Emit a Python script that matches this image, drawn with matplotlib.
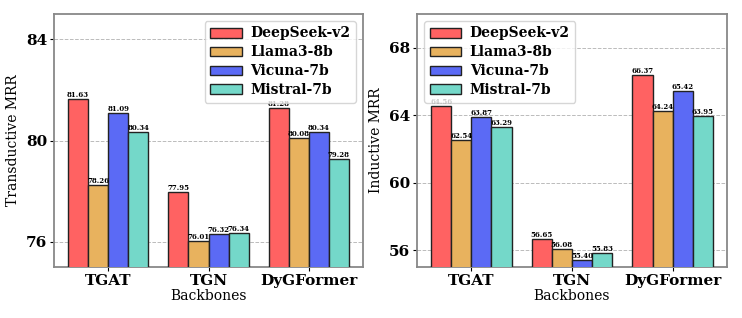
import numpy as np
import matplotlib
matplotlib.use("Agg")
import matplotlib.pyplot as plt

plt.rcParams['font.family'] = ['DejaVu Serif']

backbones = ['TGAT', 'TGN', 'DyGFormer']
models = ['DeepSeek-v2', 'Llama3-8b', 'Vicuna-7b', 'Mistral-7b']
colors = ['#ff6262', '#e8b25e', '#5b6af5', '#74d8c9']

# transductive MRR, one list per model (TGAT, TGN, DyGFormer)
trans_deepseek = [81.63, 77.95, 81.28]
trans_llama = [78.26, 76.01, 80.08]
trans_vicuna = [81.09, 76.32, 80.34]
trans_mistral = [80.34, 76.34, 79.28]

# inductive MRR
ind_deepseek = [64.56, 56.65, 66.37]
ind_llama = [62.54, 56.08, 64.24]
ind_vicuna = [63.87, 55.40, 65.42]
ind_mistral = [63.29, 55.83, 63.95]

trans = [trans_deepseek, trans_llama, trans_vicuna, trans_mistral]
ind = [ind_deepseek, ind_llama, ind_vicuna, ind_mistral]


def draw(ax, data, ylabel, ylim, yticks, legend_loc):
    x = np.arange(len(backbones))
    w = 0.2
    for i, vals in enumerate(data):
        pos = x + (i - 1.5) * w
        bars = ax.bar(pos, vals, w, color=colors[i], edgecolor='#222222',
                      linewidth=1.0, label=models[i], zorder=3)
        for b, v in zip(bars, vals):
            ax.text(b.get_x() + b.get_width() / 2, v, '%.2f' % v,
                    ha='center', va='bottom', fontsize=5.0,
                    fontweight='bold', zorder=4)
    ax.set_ylim(ylim)
    ax.set_yticks(yticks)
    ax.set_xticks(x)
    ax.set_xticklabels(backbones, fontweight='bold', fontsize=11)
    for t in ax.get_yticklabels():
        t.set_fontweight('bold')
        t.set_fontsize(11)
    ax.set_ylabel(ylabel, fontsize=10)
    ax.set_xlabel('Backbones', fontsize=10, labelpad=1)
    ax.grid(axis='y', linestyle='--', color='#bbbbbb', linewidth=0.7, zorder=0)
    for s in ax.spines.values():
        s.set_color('#888888')
        s.set_linewidth(1.3)
    ax.tick_params(length=3, pad=2)
    leg = ax.legend(loc=legend_loc, prop={'weight': 'bold', 'size': 10},
                    framealpha=0.8, handlelength=2.3, borderpad=0.4,
                    labelspacing=0.35, handletextpad=0.6)
    leg.set_zorder(5)


fig = plt.figure(figsize=(7.42, 3.18), dpi=100)
ax1 = fig.add_axes([54 / 742, 51 / 318, 309 / 742, 253 / 318])
ax2 = fig.add_axes([417 / 742, 51 / 318, 310 / 742, 253 / 318])

draw(ax1, trans, 'Transductive MRR', (75, 85), [76, 80, 84], 'upper right')
draw(ax2, ind, 'Inductive MRR', (55, 70), [56, 60, 64, 68], 'upper left')

fig.savefig('out.png', dpi=100)
